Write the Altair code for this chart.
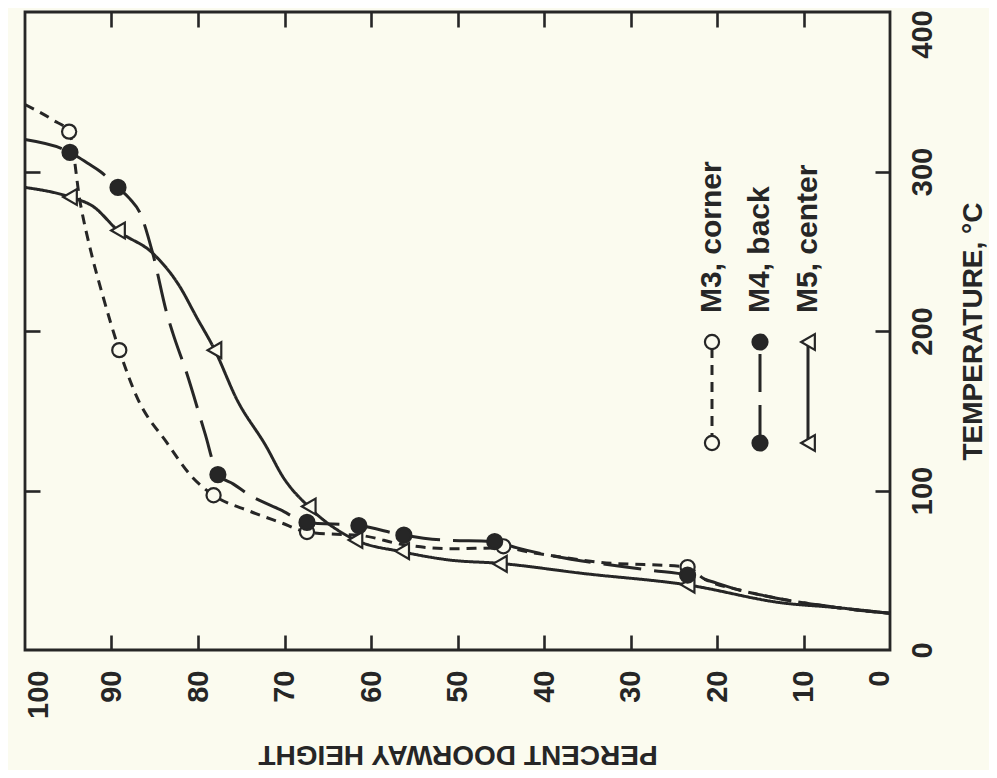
import altair as alt
import pandas as pd

FONT = "'Liberation Sans', Arial, Helvetica, Roboto, sans-serif"
INK = "#262626"
BG = "#fbfbef"

series_names = ["M3", "M4", "M5"]
legend_labels = ["M3, corner", "M4, back", "M5, center"]

x_tick_values = [0, 10, 20, 30, 40, 50, 60, 70, 80, 90, 100]
y_tick_values = [0, 100, 200, 300, 400]
inner_x_ticks = [10, 20, 30, 40, 50, 60, 70, 80, 90]
inner_y_ticks = [100, 200, 300]

# measured points: percent doorway height, temperature (deg C)
m3_height = [94.9, 89.1, 78.2, 67.4, 44.7, 23.4]
m3_temp = [325, 188, 97, 74, 65, 52]
m4_height = [94.8, 89.25, 77.7, 67.4, 61.4, 56.2, 45.7, 23.4]
m4_temp = [312, 290, 110, 80, 78, 72, 68, 47]
m5_height = [94.8, 89.25, 78.1, 67.2, 61.8, 56.4, 45.1, 23.4]
m5_temp = [284, 263, 188, 90, 69, 62, 54, 41]

# smooth curves
m3_curve_height = [100, 96.7, 94.9, 93.6, 92.3, 91.0, 89.1, 87.1, 83.6, 80.6, 78.2, 74.0, 70.5, 67.4,
                   64.0, 61.5, 56.2, 50.9, 44.7, 41.3, 33.5, 23.4, 21.6, 17.3, 13.1, 6.0, 0]
m3_curve_temp = [342, 332, 325, 280, 248, 222, 188, 159, 130, 108, 97, 87, 80, 74,
                 72.5, 72, 66, 63.5, 64, 61, 55, 52, 45, 37.5, 32.5, 26.5, 23]
m4_curve_height = [100, 94.8, 92.7, 91.3, 89.25, 87.9, 86.7, 85.2, 83.6, 82.9, 81.3, 79.2, 77.7,
                   75.9, 74.0, 70.5, 67.4, 61.4, 56.2, 51.7, 45.7, 43.1, 27.7, 23.4, 17.3, 13.1, 6.0, 0]
m4_curve_temp = [320, 312, 305, 300, 290, 283, 274, 248, 211, 198.5, 173.5, 136, 110,
                 104, 97, 88, 80, 78, 72, 69, 68, 64, 50, 47, 37.5, 32.5, 26.5, 23]
m5_curve_height = [100, 94.8, 92.1, 89.25, 85.2, 82.1, 80.2, 78.1, 75.5, 72.1, 70.2, 67.2, 61.8,
                   56.4, 50.9, 45.1, 35.5, 23.4, 12.4, 6.0, 0]
m5_curve_temp = [290, 284, 278, 263, 248.6, 227.8, 209, 188.5, 157, 127.5, 108.7, 89.8, 69,
                 61.6, 56.4, 54.3, 48, 40.8, 29.5, 26.5, 23]

curve_rows = []
for name, hs, ts in [("M3", m3_curve_height, m3_curve_temp),
                     ("M4", m4_curve_height, m4_curve_temp),
                     ("M5", m5_curve_height, m5_curve_temp)]:
    for i, (h, t) in enumerate(zip(hs, ts)):
        curve_rows.append({"series": name, "height": h, "temp": t, "idx": i})
curve_df = pd.DataFrame(curve_rows)

marker_rows = []
for name, hs, ts in [("M3", m3_height, m3_temp),
                     ("M5", m5_height, m5_temp),
                     ("M4", m4_height, m4_temp)]:
    for h, t in zip(hs, ts):
        marker_rows.append({"series": name, "height": h, "temp": t})
marker_df = pd.DataFrame(marker_rows)

legend_df = pd.DataFrame({"series": series_names, "label": legend_labels, "row": [0, 1, 2]})

xscale = alt.Scale(domain=[0, 100], reverse=True, nice=False, zero=False)
yscale = alt.Scale(domain=[0, 400], nice=False, zero=False)
dash_scale = alt.Scale(domain=series_names, range=[[10, 7], [38, 13], [1, 0]])
shape_scale = alt.Scale(domain=series_names, range=["circle", "circle", "triangle-left"])
fill_scale = alt.Scale(domain=series_names, range=[BG, INK, BG])
size_scale = alt.Scale(domain=series_names, range=[200, 250, 230])

LABEL_SIZE = 29
TITLE_SIZE = 28

main_x_axis = alt.Axis(
    orient="bottom", values=x_tick_values, ticks=False, domain=False, grid=False,
    labelAngle=270, labelAlign="right", labelBaseline="middle", labelPadding=20,
    labelFont=FONT, labelFontSize=LABEL_SIZE, labelFontWeight="bold", labelColor=INK,
    labelOverlap=False, labelFlush=False,
    labelOffset={"condition": [{"test": "datum.value === 100", "value": 13},
                               {"test": "datum.value === 0", "value": -11}], "value": 0},
    title="PERCENT DOORWAY HEIGHT", titleAngle=180, titleBaseline="bottom", titlePadding=21,
    titleFont=FONT, titleFontSize=TITLE_SIZE, titleFontWeight="bold", titleColor=INK,
)
main_y_axis = alt.Axis(
    orient="right", values=y_tick_values, ticks=False, domain=False, grid=False,
    labelAngle=270, labelAlign="center", labelBaseline="top", labelPadding=18,
    labelFont=FONT, labelFontSize=LABEL_SIZE, labelFontWeight="bold", labelColor=INK,
    labelOverlap=False, labelFlush=False,
    labelOffset={"condition": {"test": "datum.value === 400", "value": 22}, "value": 0},
    title="TEMPERATURE, °C", titleAngle=270, titleBaseline="top", titlePadding=22,
    titleFont=FONT, titleFontSize=TITLE_SIZE, titleFontWeight="bold", titleColor=INK,
)

lines = alt.Chart(curve_df).mark_line(color=INK, strokeWidth=3, interpolate="monotone").encode(
    x=alt.X("height:Q", scale=xscale, axis=main_x_axis),
    y=alt.Y("temp:Q", scale=yscale, axis=main_y_axis),
    detail="series:N",
    order="idx:Q",
    strokeDash=alt.StrokeDash("series:N", scale=dash_scale, legend=None),
)

markers = alt.Chart(marker_df).mark_point(filled=True, stroke=INK, strokeWidth=2.2, opacity=1).encode(
    x=alt.X("height:Q", scale=xscale, axis=None),
    y=alt.Y("temp:Q", scale=yscale, axis=None),
    shape=alt.Shape("series:N", scale=shape_scale, legend=None),
    fill=alt.Fill("series:N", scale=fill_scale, legend=None),
    size=alt.Size("series:O", scale=size_scale, legend=None),
)

tick_style = dict(ticks=True, tickSize=15, tickWidth=2.6, tickColor=INK, labels=False,
                  domain=False, grid=False, title="")

ticks_a = alt.Chart(marker_df).mark_point(opacity=0).encode(
    x=alt.X("height:Q", scale=xscale, axis=alt.Axis(orient="top", offset=-638, values=inner_x_ticks, **tick_style)),
    y=alt.Y("temp:Q", scale=yscale, axis=alt.Axis(orient="left", offset=-865, values=inner_y_ticks, **tick_style)),
)
ticks_b = alt.Chart(marker_df).mark_point(opacity=0).encode(
    x=alt.X("height:Q", scale=xscale, axis=alt.Axis(orient="bottom", offset=-638, values=inner_x_ticks, **tick_style)),
    y=alt.Y("temp:Q", scale=yscale, axis=alt.Axis(orient="right", offset=-865, values=inner_y_ticks, **tick_style)),
)

leg_base = alt.Chart(legend_df).transform_calculate(lx="687 + datum.row * 48")
leg_x = alt.X("lx:Q", scale=None, axis=None)
leg_text = leg_base.mark_text(angle=270, align="left", baseline="middle", font=FONT, fontSize=30,
                              fontWeight="bold", color=INK).encode(
    x=leg_x, y=alt.value(301), text="label:N")
leg_rule = leg_base.mark_rule(color=INK, strokeWidth=3).encode(
    x=leg_x, y=alt.value(431), y2=alt.value(330),
    strokeDash=alt.StrokeDash("series:N", scale=dash_scale, legend=None))
leg_pts = []
for yy in (431, 330):
    leg_pts.append(leg_base.mark_point(filled=True, stroke=INK, strokeWidth=2.2, opacity=1).encode(
        x=leg_x, y=alt.value(yy),
        shape=alt.Shape("series:N", scale=shape_scale, legend=None),
        fill=alt.Fill("series:N", scale=fill_scale, legend=None),
        size=alt.Size("series:O", scale=size_scale, legend=None),
    ))

chart = alt.layer(lines, markers, ticks_a, ticks_b, leg_rule, leg_text, *leg_pts).resolve_axis(
    x="independent", y="independent"
).properties(
    width=865, height=638,
    autosize=alt.AutoSizeParams(type="none"),
    padding={"left": 17, "top": 4, "right": 99, "bottom": 120},
    background=BG,
).configure_view(stroke=INK, strokeWidth=2.8)

chart.save("out.html", embed_options={"renderer": "svg", "actions": False})
